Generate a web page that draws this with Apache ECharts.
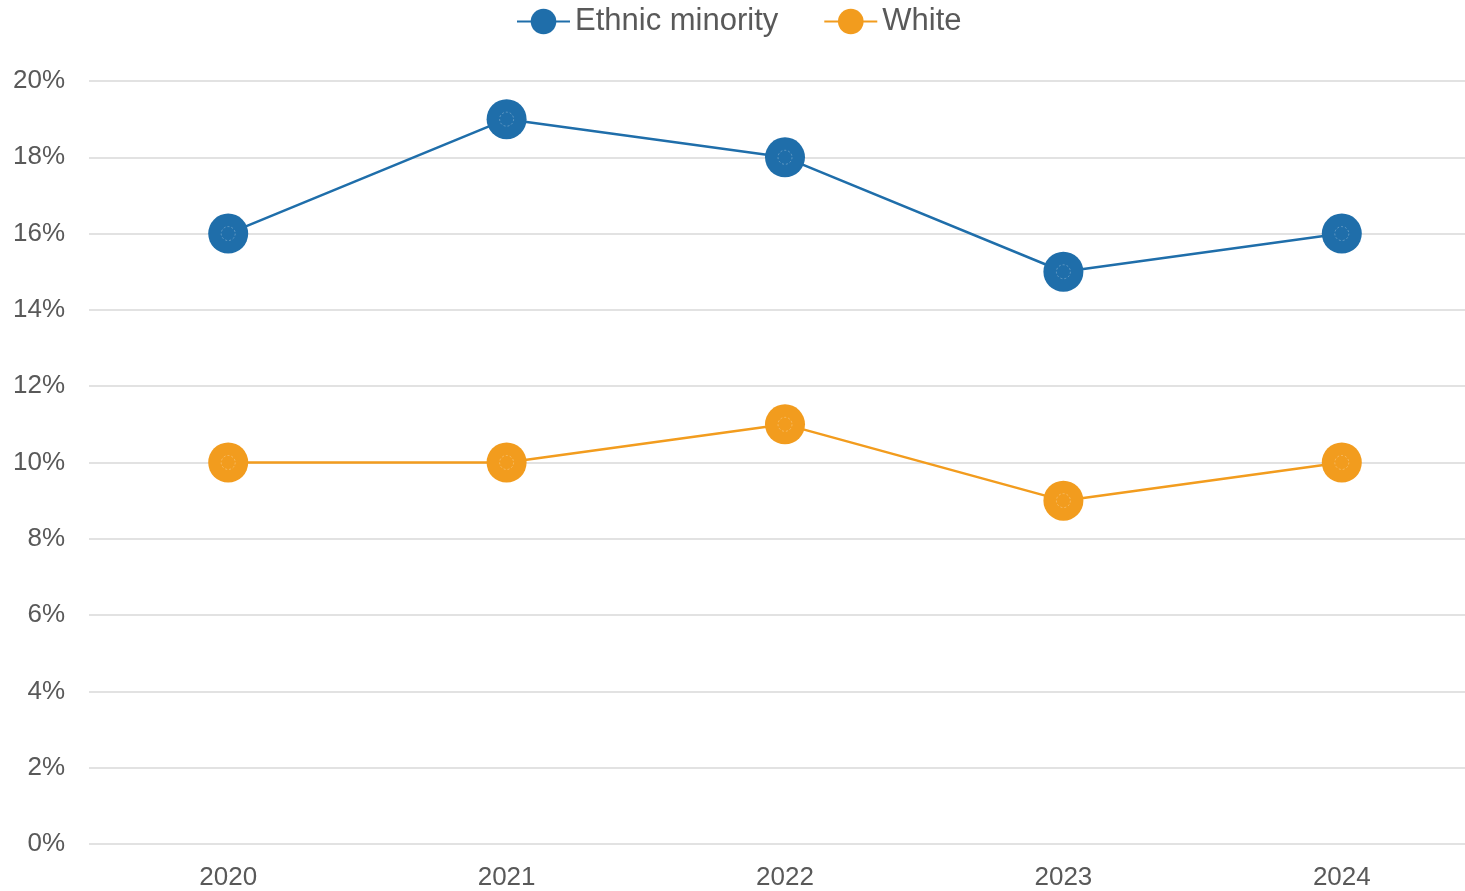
<!DOCTYPE html>
<html>
<head>
<meta charset="utf-8">
<script src="https://cdn.jsdelivr.net/npm/echarts@6/dist/echarts.min.js"></script>
<style>
  html, body { margin: 0; padding: 0; background: #ffffff; overflow: hidden; }
  #chart { width: 1481px; height: 891px; }
</style>
</head>
<body>
<div id="chart"></div>
<script>
// Years shown on the category axis
const years = ['2020', '2021', '2022', '2023', '2024'];
// Share of each group, in percent
const ethnicMinority = [16, 19, 18, 15, 16];
const white = [10, 10, 11, 9, 10];
// Series names used in the legend
const seriesNames = ['Ethnic minority', 'White'];

const BLUE = '#1F6EAA';
const ORANGE = '#F29C1E';
const TEXT = '#595959';
const FONT = '"Liberation Sans", Arial, sans-serif';

const chart = echarts.init(document.getElementById('chart'), null, { renderer: 'canvas' });

function lineSeries(name, data, color) {
  return {
    name: name,
    type: 'line',
    data: data,
    symbol: 'circle',
    symbolSize: 40,
    z: 2,
    lineStyle: { color: color, width: 2.5 },
    itemStyle: { color: color },
    emphasis: { disabled: true },
    animation: false
  };
}

// faint dashed ring drawn in the middle of each marker
function ringSeries(name, data) {
  return {
    name: name + ' ring',
    type: 'scatter',
    data: data,
    symbol: 'circle',
    symbolSize: 14,
    z: 3,
    silent: true,
    itemStyle: {
      color: 'rgba(0,0,0,0)',
      borderColor: 'rgba(255,255,255,0.35)',
      borderWidth: 1,
      borderType: [2, 2]
    },
    animation: false
  };
}

chart.setOption({
  backgroundColor: '#ffffff',
  animation: false,
  legend: {
    top: 1,
    left: 511,
    itemWidth: 53,
    itemHeight: 32,
    itemGap: 45,
    textStyle: { color: TEXT, fontSize: 31, fontFamily: FONT },
    data: seriesNames
  },
  grid: {
    left: 89,
    right: 0,
    top: 81,
    bottom: 45,
    containLabel: false
  },
  xAxis: {
    type: 'category',
    data: years,
    boundaryGap: true,
    axisLine: { show: false },
    axisTick: { show: false },
    axisLabel: { color: TEXT, fontSize: 26, fontFamily: FONT, margin: 21 }
  },
  yAxis: {
    type: 'value',
    min: 0,
    max: 20,
    interval: 2,
    axisLine: { show: false },
    axisTick: { show: false },
    axisLabel: {
      color: TEXT, fontSize: 26, fontFamily: FONT, margin: 24,
      padding: [5, 0, 0, 0],
      formatter: v => v + '%'
    },
    splitLine: { lineStyle: { color: '#D9D9D9', width: 1.5 } }
  },
  series: [
    lineSeries(seriesNames[0], ethnicMinority, BLUE),
    lineSeries(seriesNames[1], white, ORANGE),
    ringSeries(seriesNames[0], ethnicMinority),
    ringSeries(seriesNames[1], white)
  ]
});
</script>
</body>
</html>
